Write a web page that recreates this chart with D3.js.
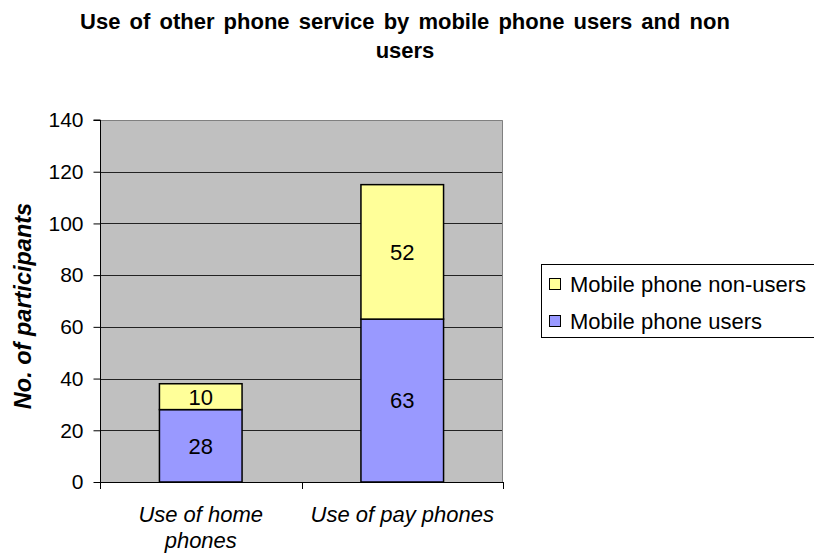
<!DOCTYPE html>
<html>
<head>
<meta charset="utf-8">
<script src="https://cdn.jsdelivr.net/npm/d3@7/dist/d3.min.js"></script>
<style>
  html, body { margin: 0; padding: 0; background: #fff; }
  svg { display: block; font-family: "Liberation Sans", Arial, sans-serif; }
</style>
</head>
<body>
<svg id="chart" width="814" height="555"></svg>
<script>
// Chart data
const categories = ["Use of home phones", "Use of pay phones"];
const seriesNames = ["Mobile phone users", "Mobile phone non-users"];
const usersValues = [28, 63];
const nonUsersValues = [10, 52];
const yTicks = [0, 20, 40, 60, 80, 100, 120, 140];
const titleLines = ["Use of other phone service by mobile phone users and non", "users"];
const yAxisTitle = "No. of participants";

const colors = { users: "#9999FF", nonUsers: "#FFFF99" };

const svg = d3.select("#chart");
const plot = { left: 100, right: 503, top: 120, bottom: 482 };

const y = d3.scaleLinear().domain([0, 140]).range([plot.bottom, plot.top]);
const xStep = d3.scaleBand().domain(categories).range([plot.left, plot.right]).padding(0);
const xBar = d3.scaleBand().domain(categories).range([plot.left, plot.right])
  .paddingInner(0.59).paddingOuter(0.295);

// Plot background
svg.append("rect")
  .attr("x", plot.left).attr("y", plot.top)
  .attr("width", plot.right - plot.left).attr("height", plot.bottom - plot.top)
  .attr("fill", "#C0C0C0");

// Gridlines
svg.append("g").selectAll("line")
  .data(yTicks.filter(d => d > 0 && d < 140))
  .join("line")
  .attr("x1", plot.left).attr("x2", plot.right)
  .attr("y1", d => Math.round(y(d)) + 0.5).attr("y2", d => Math.round(y(d)) + 0.5)
  .attr("stroke", "#222").attr("stroke-width", 1);

// Plot frame (top and right)
svg.append("path")
  .attr("d", `M${plot.left},${plot.top + 0.5}H${plot.right - 0.5}V${plot.bottom}`)
  .attr("fill", "none").attr("stroke", "#808080").attr("stroke-width", 1);

// Stacked bars
const stackData = categories.map((c, i) => ({ cat: c, users: usersValues[i], nonUsers: nonUsersValues[i] }));
const stacked = d3.stack().keys(["users", "nonUsers"])(stackData);

const barG = svg.append("g");
stacked.forEach(layer => {
  barG.selectAll(null)
    .data(layer)
    .join("rect")
    .attr("x", d => xBar(d.data.cat))
    .attr("width", xBar.bandwidth())
    .attr("y", d => y(d[1]))
    .attr("height", d => y(d[0]) - y(d[1]))
    .attr("fill", colors[layer.key])
    .attr("stroke", "#000").attr("stroke-width", 1.5);

  barG.selectAll(null)
    .data(layer)
    .join("text")
    .attr("x", d => xBar(d.data.cat) + xBar.bandwidth() / 2)
    .attr("y", d => (y(d[0]) + y(d[1])) / 2)
    .attr("dy", "0.36em")
    .attr("text-anchor", "middle")
    .attr("font-size", 22)
    .attr("fill", "#000")
    .text(d => d.data[layer.key]);
});

// Y axis
const yAxis = d3.axisLeft(y).tickValues(yTicks).tickSize(7).tickPadding(10);
const yG = svg.append("g").attr("transform", `translate(${plot.left + 0.5},0)`).call(yAxis);
yG.select(".domain").attr("stroke", "#000").attr("d", `M-7,${plot.top}H0V${plot.bottom + 7}`);
yG.selectAll(".tick line").attr("stroke", "#000");
yG.selectAll(".tick text").attr("font-size", 21).attr("fill", "#000")
  .attr("font-family", "'Liberation Sans', Arial, sans-serif");

// X axis with ticks at category boundaries
const xG = svg.append("g");
xG.append("line")
  .attr("x1", plot.left).attr("x2", plot.right)
  .attr("y1", plot.bottom + 0.5).attr("y2", plot.bottom + 0.5)
  .attr("stroke", "#000");
const boundaries = categories.map(c => xStep(c)).concat([xStep(categories[categories.length - 1]) + xStep.step()]);
xG.selectAll("line.tk")
  .data(boundaries)
  .join("line")
  .attr("class", "tk")
  .attr("x1", d => Math.round(d) + 0.5).attr("x2", d => Math.round(d) + 0.5)
  .attr("y1", plot.bottom).attr("y2", plot.bottom + 7)
  .attr("stroke", "#000");

// Category labels, wrapped to the category width
const labelG = xG.append("g").attr("font-size", 22).attr("font-style", "italic").attr("fill", "#000");
categories.forEach(c => {
  const cx = xStep(c) + xStep.step() / 2;
  const t = labelG.append("text")
    .attr("text-anchor", "middle")
    .attr("x", cx)
    .attr("y", 522);
  const words = c.split(" ");
  let line = [];
  let tspan = t.append("tspan").attr("x", cx).attr("dy", 0);
  words.forEach(w => {
    line.push(w);
    tspan.text(line.join(" "));
    if (tspan.node().getComputedTextLength() > xStep.step() - 8 && line.length > 1) {
      line.pop();
      tspan.text(line.join(" "));
      line = [w];
      tspan = t.append("tspan").attr("x", cx).attr("dy", 26).text(w);
    }
  });
});

// Y axis title
svg.append("text")
  .attr("transform", `translate(31,306) rotate(-90)`)
  .attr("text-anchor", "middle")
  .attr("font-size", 23.5).attr("font-weight", "bold").attr("font-style", "italic")
  .attr("fill", "#000")
  .text(yAxisTitle);

// Title
const title = svg.append("text")
  .attr("text-anchor", "middle")
  .attr("font-size", 22).attr("font-weight", "bold").attr("fill", "#000")
  .attr("word-spacing", 3);
titleLines.forEach((l, i) => {
  title.append("tspan").attr("x", 405).attr("y", 29 + i * 29).text(l);
});

// Legend
const legend = svg.append("g");
legend.append("rect")
  .attr("x", 541.5).attr("y", 264.5).attr("width", 290).attr("height", 73)
  .attr("fill", "#fff").attr("stroke", "#000").attr("stroke-width", 1);
const legendItems = [
  { name: seriesNames[1], color: colors.nonUsers },
  { name: seriesNames[0], color: colors.users }
];
legendItems.forEach((d, i) => {
  const cy = 284.5 + i * 37;
  legend.append("rect")
    .attr("x", 549.5).attr("y", cy - 6).attr("width", 11).attr("height", 11)
    .attr("fill", d.color).attr("stroke", "#000").attr("stroke-width", 1);
  legend.append("text")
    .attr("x", 570).attr("y", cy).attr("dy", "0.36em")
    .attr("font-size", 22).attr("fill", "#000")
    .text(d.name);
});
</script>
</body>
</html>
